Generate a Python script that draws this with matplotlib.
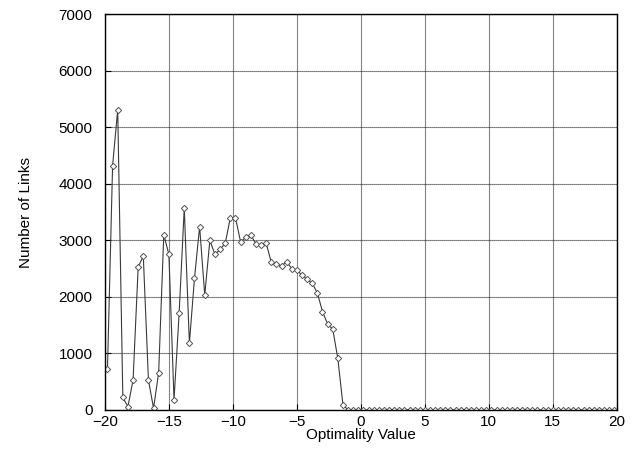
import numpy as np
import matplotlib.pyplot as plt

plt.rcParams['font.family'] = ['Liberation Sans', 'DejaVu Sans']

# bin centres of the optimality histogram (step 0.4)
optimality = np.round(np.arange(-19.8, 19.81, 0.4), 1)

links_nonzero = [720, 4320, 5310, 220, 60, 530, 2530, 2720, 530, 30,
                 660, 3100, 2750, 180, 1710, 3570, 1180, 2330, 3240, 2030,
                 3000, 2750, 2840, 2945, 3400, 3400, 2975, 3050, 3100, 2930,
                 2920, 2950, 2610, 2580, 2550, 2620, 2500, 2470, 2385, 2310,
                 2240, 2070, 1740, 1520, 1430, 910, 90]
links = links_nonzero + [0] * (len(optimality) - len(links_nonzero))

fig = plt.figure(figsize=(6.32, 4.57), dpi=100)
ax = fig.add_axes([0.166, 0.103, 0.81, 0.866])

ax.plot(optimality, links, color='#3a3a3a', lw=0.8, marker='D',
        markersize=3.2, mfc='white', mec='#555555', mew=0.7)

ax.set_xlim(-20, 20)
ax.set_ylim(0, 7000)
ax.set_xticks(np.arange(-20, 21, 5))
ax.set_yticks(np.arange(0, 7001, 1000))
ax.grid(True, color='#222222', linestyle=(0, (1, 0.8)), linewidth=0.8)
ax.tick_params(direction='in', length=4, labelsize=11, colors='black')
ax.tick_params(axis='y', pad=9)
ax.tick_params(axis='x', pad=4)
for s in ax.spines.values():
    s.set_linewidth(1.0)

ax.set_xlabel('Optimality Value', fontsize=11, labelpad=-1)
ax.set_ylabel('Number of Links', fontsize=11, labelpad=18)

fig.savefig('out.png', dpi=100)
